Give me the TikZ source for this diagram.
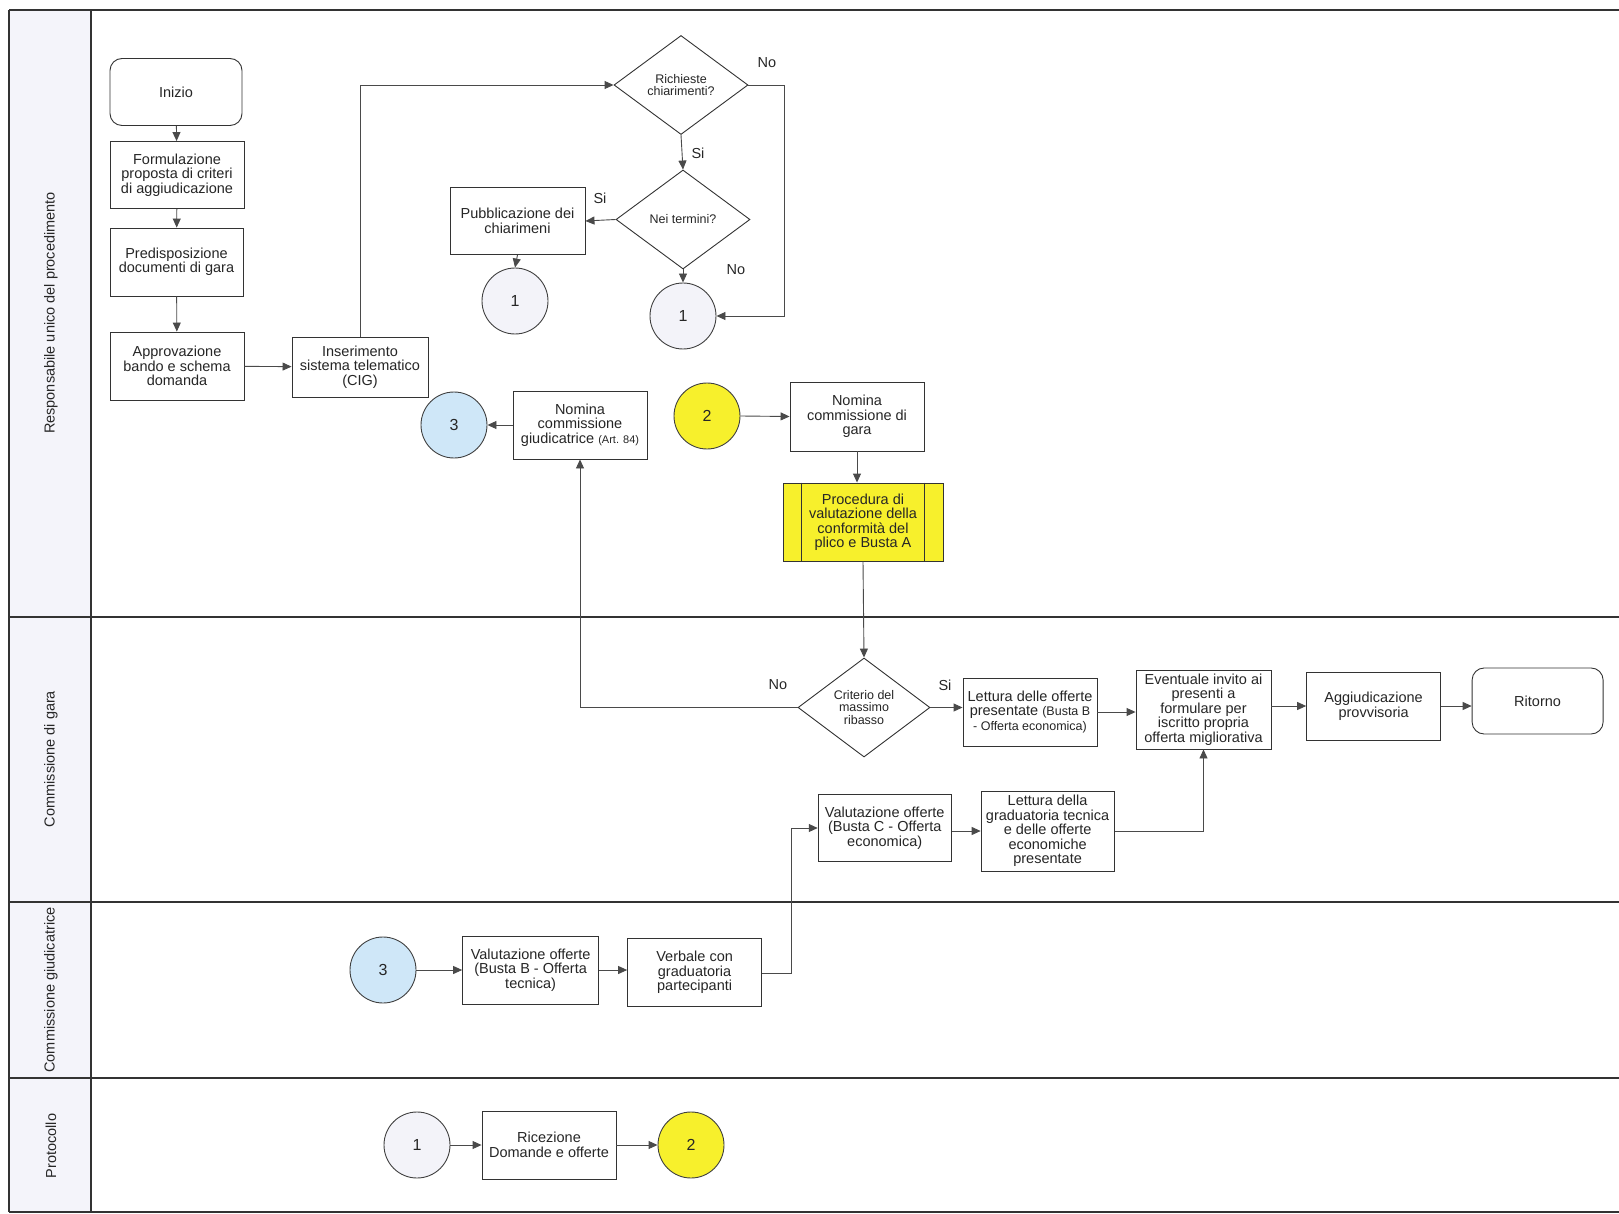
\documentclass[tikz,border=0pt]{standalone}
\usepackage{fontspec}
\setmainfont{Liberation Sans}
\usetikzlibrary{shapes.geometric,arrows.meta,calc}
\newcommand\fsn{\fontsize{14.5}{14.5}\selectfont}
\newcommand\fss{\fontsize{12.5}{12.5}\selectfont}
\newcommand\fsa{\fontsize{11}{12}\selectfont}
\newcommand\fsl{\fontsize{14.5}{15}\selectfont}
\newcommand\fsc{\fontsize{16}{16}\selectfont}
\definecolor{lanebg}{HTML}{F4F4FA}
\definecolor{cyel}{HTML}{F7F02C}
\definecolor{cblue}{HTML}{CFE7F8}
\definecolor{clav}{HTML}{F3F3F9}
\definecolor{lnc}{HTML}{4A4A4A}
\begin{document}
\begin{tikzpicture}[x=1pt,y=-1pt,
  every node/.style={font=\fsn, text=black!85},
  proc/.style={draw=black!80, line width=0.9pt, fill=white, align=center, inner sep=1pt},
  startend/.style={proc, rounded corners=12pt},
  dec/.style={draw=black!80, line width=0.9pt, fill=white, diamond, align=center, inner sep=0pt, font=\fss},
  conn/.style={draw=black!75, line width=0.9pt, circle, minimum size=66pt, inner sep=0pt, font=\fsc},
  arr/.style={draw=lnc, line width=0.9pt, -{Triangle[length=9pt,width=8pt]}},
  ln/.style={draw=lnc, line width=0.9pt},
  lbl/.style={font=\fsn},
  lane/.style={line width=1.8pt, draw=black!80},
  lanelbl/.style={rotate=90, font=\fsl}]
\useasboundingbox (0,0) rectangle (1619,1214);
% lanes
\fill[lanebg] (9,10) rectangle (91,1212);
\draw[lane] (9,10) -- (1619,10);
\draw[lane] (9,617) -- (1619,617);
\draw[lane] (9,902) -- (1619,902);
\draw[lane] (9,1078) -- (1619,1078);
\draw[lane] (9,1212) -- (1619,1212);
\draw[lane] (9,10) -- (9,1212);
\draw[lane] (91,10) -- (91,1212);
\node[lanelbl] (l1) at (51,313) {Responsabile unico del procedimento};
\node[lanelbl] (l2) at (51,759) {Commissione di gara};
\node[lanelbl] (l3) at (51,990) {Commissione giudicatrice};
\node[lanelbl] (l4) at (51,1146) {Protocollo};
% nodes lane 1
\node[startend, minimum width=132pt, minimum height=67pt] (inizio) at (176,92) {Inizio};
\node[proc, minimum width=134pt, minimum height=67pt] (form) at (177,175) {Formulazione\\proposta di criteri\\di aggiudicazione};
\node[proc, minimum width=133pt, minimum height=68pt] (pred) at (176.5,262) {Predisposizione\\documenti di gara};
\node[proc, minimum width=134pt, minimum height=68pt] (appr) at (177,366) {Approvazione\\bando e schema\\domanda};
\node[proc, minimum width=136pt, minimum height=60pt] (ins) at (360,367) {Inserimento\\sistema telematico\\(CIG)};
\node[dec, minimum width=134pt, minimum height=99pt] (rich) at (681,85) {Richieste\\chiarimenti?};
\node[dec, minimum width=134pt, minimum height=99pt] (nei) at (683,219.5) {Nei termini?};
\node[proc, minimum width=135pt, minimum height=67pt] (pubb) at (517.5,221) {Pubblicazione dei\\chiarimeni};
\node[conn, fill=clav] (c1a) at (515,301) {1};
\node[conn, fill=clav] (c1b) at (683,316) {1};
\node[proc, minimum width=134pt, minimum height=68pt] (nomg) at (580,425) {Nomina\\commissione\\giudicatrice {\fsa(Art. 84)}};
\node[conn, fill=cblue] (c3a) at (454,425) {3};
\node[conn, fill=cyel] (c2a) at (707,416) {2};
\node[proc, minimum width=134pt, minimum height=69pt] (nomgara) at (857,416.5) {Nomina\\commissione di\\gara};
\node[proc, fill=cyel, minimum width=160pt, minimum height=78pt] (procA) at (863,522) {Procedura di\\valutazione della\\conformità del\\plico e Busta A};
\draw[ln, draw=black!80] ($(procA.north west)+(19,0)$) -- ($(procA.south west)+(19,0)$);
\draw[ln, draw=black!80] ($(procA.north east)+(-19,0)$) -- ($(procA.south east)+(-19,0)$);
% lane 2
\node[dec, minimum width=132pt, minimum height=99pt] (crit) at (864,707.5) {Criterio del\\massimo\\ribasso};
\node[proc, minimum width=134pt, minimum height=68pt] (lett) at (1030,712) {Lettura delle offerte\\presentate {\fss(Busta B}\\{\fss- Offerta economica)}};
\node[proc, minimum width=135pt, minimum height=79pt] (event) at (1203.5,709.5) {Eventuale invito ai\\presenti a\\formulare per\\iscritto propria\\offerta migliorativa};
\node[proc, minimum width=134pt, minimum height=68pt] (aggi) at (1373.6,706) {Aggiudicazione\\provvisoria};
\node[startend, minimum width=131pt, minimum height=66pt] (rit) at (1537.6,701) {Ritorno};
\node[proc, minimum width=133pt, minimum height=67pt] (valc) at (884.7,828) {Valutazione offerte\\(Busta C - Offerta\\economica)};
\node[proc, minimum width=133pt, minimum height=80pt] (lgrad) at (1047.6,831) {Lettura della\\graduatoria tecnica\\e delle offerte\\economiche\\presentate};
% lane 3
\node[conn, fill=cblue] (c3b) at (383,970) {3};
\node[proc, minimum width=136pt, minimum height=68pt] (valb) at (530.6,970) {Valutazione offerte\\(Busta B - Offerta\\tecnica)};
\node[proc, minimum width=134pt, minimum height=68pt] (verb) at (694.6,972.5) {Verbale con\\graduatoria\\partecipanti};
% lane 4
\node[conn, fill=clav] (c1c) at (417,1145) {1};
\node[proc, minimum width=134pt, minimum height=68pt] (ric) at (549,1145) {Ricezione\\Domande e offerte};
\node[conn, fill=cyel] (c2b) at (691,1145) {2};
% connectors
\draw[arr] (inizio) -- (form);
\draw[arr] (form) -- (pred);
\draw[arr] (pred) -- (appr);
\draw[arr] (appr) -- (ins);
\draw[arr] (ins.north) |- (rich.west);
\draw[arr] (rich.south) -- (nei.north);
\node[lbl] (si1) at (698,153) {Si};
\coordinate (rno) at (784,85);
\draw[arr] (rich.east) -- (rno) |- (c1b.east);
\node[lbl] (no1) at (767,63) {No};
\draw[arr] (nei.west) -- (pubb.east);
\node[lbl] (si2) at (600,198) {Si};
\draw[arr] (nei.south) -- (c1b.north);
\node[lbl] (no2) at (736,270) {No};
\draw[arr] (pubb.south) -- (c1a.north);
\draw[arr] (nomg.west) -- (c3a.east);
\draw[arr] (c2a.east) -- (nomgara.west);
\draw[arr] (nomgara.south) -- (nomgara.south |- procA.north);
\draw[arr] (procA.south) -- (crit.north);
\draw[arr] (crit.west) -| (nomg.south);
\node[lbl] (no3) at (778,685) {No};
\draw[arr] (crit.east) -- (lett.west |- crit.east);
\node[lbl] (si3) at (945,685) {Si};
\draw[arr] (lett.east) -- (lett.east -| event.west);
\draw[arr] (aggi.west -| event.east) -- (aggi.west);
\draw[arr] (aggi.east) -- (aggi.east -| rit.west);
\draw[arr] (lgrad.east) -| (event.south);
\draw[arr] (valc.east |- lgrad.west) -- (lgrad.west);
\coordinate (vk) at (791,973);
\draw[arr] (verb.east |- vk) -- (vk) |- (valc.west);
\draw[arr] (c3b.east) -- (valb.west);
\draw[arr] (valb.east) -- (verb.west |- valb.east);
\draw[arr] (c1c.east) -- (ric.west);
\draw[arr] (ric.east) -- (c2b.west);
\end{tikzpicture}
\end{document}
